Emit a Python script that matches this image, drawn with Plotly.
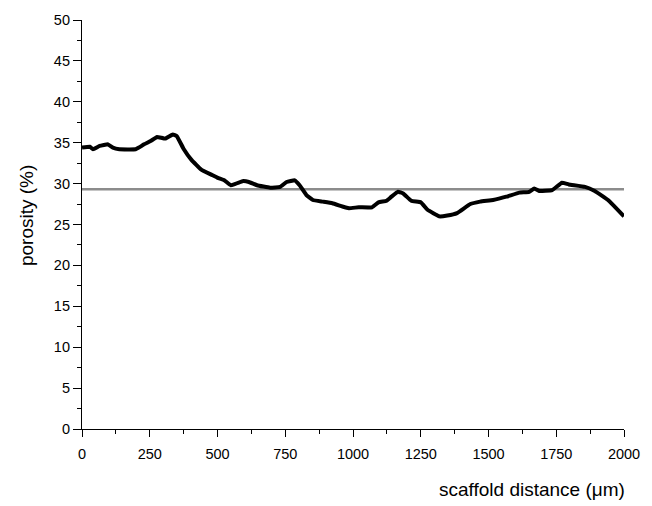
import plotly.graph_objects as go

distance = [0, 29, 41, 65, 96, 114, 138, 198, 210, 229, 253, 277, 307, 335, 350, 374, 404, 440, 477, 501,
            525, 549, 561, 592, 616, 646, 694, 731, 755, 785, 803, 828, 852, 888, 924, 961, 985, 1021, 1070,
            1094, 1124, 1142, 1166, 1185, 1215, 1251, 1275, 1318, 1348, 1384, 1433, 1469, 1517, 1566, 1614,
            1650, 1669, 1687, 1735, 1771, 1796, 1856, 1892, 1941, 1977, 2000]
porosity = [34.4, 34.5, 34.2, 34.6, 34.8, 34.4, 34.2, 34.2, 34.4, 34.8, 35.2, 35.7, 35.5, 36.0, 35.8, 34.3,
            32.9, 31.7, 31.1, 30.7, 30.4, 29.8, 29.9, 30.3, 30.2, 29.8, 29.5, 29.6, 30.2, 30.4, 29.8, 28.6,
            28.0, 27.8, 27.6, 27.2, 27.0, 27.1, 27.1, 27.7, 27.9, 28.4, 29.0, 28.8, 27.9, 27.7, 26.8, 26.0,
            26.1, 26.4, 27.5, 27.8, 28.0, 28.4, 28.9, 29.0, 29.4, 29.1, 29.2, 30.1, 29.9, 29.6, 29.1, 28.0,
            26.8, 26.0]
mean_x = [0, 2000]
mean_y = [29.3, 29.3]

x_ticks = [0, 250, 500, 750, 1000, 1250, 1500, 1750, 2000]
y_ticks = [0, 5, 10, 15, 20, 25, 30, 35, 40, 45, 50]

fig = go.Figure()
fig.add_trace(go.Scatter(x=mean_x, y=mean_y, mode="lines",
                         line=dict(color="#8c8c8c", width=2.5), showlegend=False))
fig.add_trace(go.Scatter(x=distance, y=porosity, mode="lines",
                         line=dict(color="black", width=4, shape="spline", smoothing=0.3),
                         showlegend=False))

tick_font = dict(family="Liberation Sans, Arial, sans-serif", size=14.5, color="black")
title_font = dict(family="Liberation Sans, Arial, sans-serif", size=19, color="black")
fig.update_layout(
    width=652, height=506,
    margin=dict(l=82, r=19, t=20, b=77),
    paper_bgcolor="white", plot_bgcolor="white",
    font=tick_font,
    xaxis=dict(range=[0, 2000], tickvals=x_ticks, ticks="outside", ticklen=7, tickwidth=1,
               tickcolor="black", showline=True, linecolor="black", linewidth=1.2,
               showgrid=False, zeroline=False, tickfont=tick_font, ticklabelstandoff=4,
               minor=dict(dtick=125, tick0=0, ticks="outside", ticklen=4, tickcolor="black", showgrid=False)),
    yaxis=dict(range=[0, 50], tickvals=y_ticks, ticks="outside", ticklen=8, tickwidth=1,
               tickcolor="black", showline=True, linecolor="black", linewidth=1.2,
               showgrid=False, zeroline=False, tickfont=tick_font,
               minor=dict(dtick=2.5, tick0=0, ticks="outside", ticklen=4, tickcolor="black", showgrid=False)),
    annotations=[
        dict(text="scaffold distance (\u03bcm)", xref="paper", yref="paper", x=1.0054, y=-0.149,
             xanchor="right", yanchor="middle", showarrow=False, font=title_font),
        dict(text="porosity (%)", xref="paper", yref="paper", x=-0.1034, y=0.523,
             xanchor="center", yanchor="middle", textangle=-90, showarrow=False, font=title_font),
    ],
)
fig.write_html("out.html")
